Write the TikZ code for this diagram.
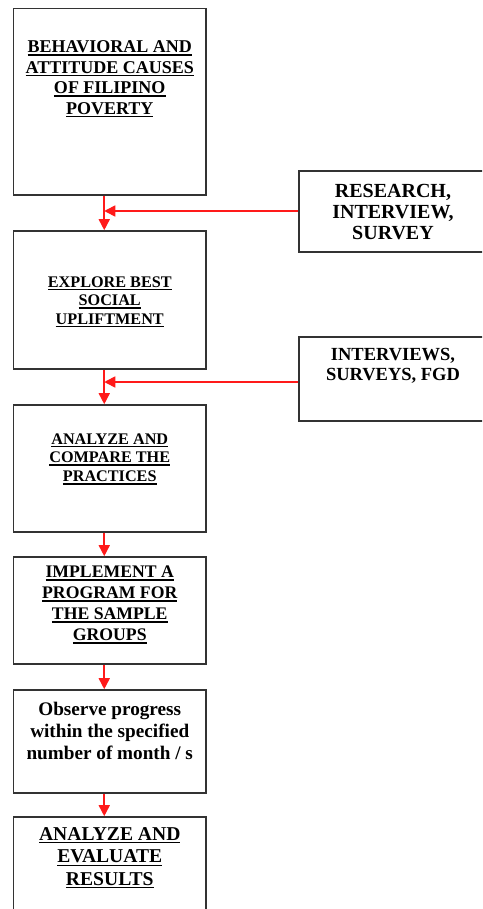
\documentclass[tikz,border=0pt]{standalone}
\usepackage{fontspec}
\setmainfont{Liberation Serif}
\usetikzlibrary{arrows.meta, positioning}
\usepackage{xcolor}
\definecolor{edgecol}{HTML}{333333}
\definecolor{flowred}{HTML}{FF1A1A}
\newcommand\ultext[1]{\vtop{\hbox{#1}\kern1.4pt\hrule height1.5pt}}

\begin{document}
\begin{tikzpicture}[
  x=1pt, y=1pt,
  box/.style={draw=edgecol, line width=1.6pt, inner sep=0pt, minimum width=192.5pt},
  sidebox/.style={draw=edgecol, line width=1.6pt, inner sep=0pt, minimum width=188pt},
  txt/.style 2 args={align=center, inner sep=0pt, font=\bfseries\fontsize{#1}{#2}\selectfont},
  arrow/.style={-{Triangle[length=11pt, width=11pt]}, line width=1.6pt, flowred}
]
\useasboundingbox (0,0) rectangle (482,-909);
\clip (0,0) rectangle (482,-909);

\node[box, minimum height=186.5pt] (cause) at (109.75,-101.75) {};
\node[box, minimum height=138pt] (explore) at (109.75,-300) {};
\node[box, minimum height=127pt] (compare) at (109.75,-468.5) {};
\node[box, minimum height=107pt] (implement) at (109.75,-610.5) {};
\node[box, minimum height=103pt] (observe) at (109.75,-741.5) {};
\node[box, minimum height=120pt] (evaluate) at (109.75,-877) {};
\node[sidebox, minimum height=81pt] (research) at (393,-211.5) {};
\node[sidebox, minimum height=84pt] (interviews) at (393,-379) {};

\node[txt={18}{20.5}, below=33pt of cause.north] (causetxt)
  {\ultext{BEHAVIORAL AND}\\\ultext{ATTITUDE CAUSES}\\\ultext{OF FILIPINO}\\\ultext{POVERTY}};
\node[txt={16.2}{18.5}, below=46pt of explore.north] (exploretxt)
  {\ultext{EXPLORE BEST}\\\ultext{SOCIAL}\\\ultext{UPLIFTMENT}};
\node[txt={16.2}{18.7}, below=29pt of compare.north] (comparetxt)
  {\ultext{ANALYZE AND}\\\ultext{COMPARE THE}\\\ultext{PRACTICES}};
\node[txt={17.7}{21}, below=9.7pt of implement.north] (implementtxt)
  {\ultext{IMPLEMENT A}\\\ultext{PROGRAM FOR}\\\ultext{THE SAMPLE}\\\ultext{GROUPS}};
\node[txt={19.2}{21.7}, below=13pt of observe.north] (observetxt)
  {Observe progress\\within the specified\\number of month / s};
\node[txt={19.6}{22.5}, below=11pt of evaluate.north] (evaluatetxt)
  {\ultext{ANALYZE AND}\\\ultext{EVALUATE}\\\ultext{RESULTS}};
\node[txt={20}{20.8}, below=14pt of research.north] (researchtxt)
  {RESEARCH,\\INTERVIEW,\\SURVEY};
\node[txt={18.5}{20}, below=12pt of interviews.north] (interviewstxt)
  {INTERVIEWS,\\SURVEYS, FGD};

\coordinate (joinA) at ([xshift=-5.5pt]cause.south);
\coordinate (joinB) at ([xshift=-5.5pt]explore.south);

\draw[arrow] (joinA) -- ([xshift=-5.5pt]explore.north);
\draw[arrow] (joinB) -- ([xshift=-5.5pt]compare.north);
\draw[arrow] ([xshift=-5.5pt]compare.south) -- ([xshift=-5.5pt]implement.north);
\draw[arrow] ([xshift=-5.5pt]implement.south) -- ([xshift=-5.5pt]observe.north);
\draw[arrow] ([xshift=-5.5pt]observe.south) -- ([xshift=-5.5pt]evaluate.north);
\draw[arrow] ([yshift=0.5pt]research.west) -- ([yshift=0.5pt]research.west -| joinA);
\draw[arrow] ([yshift=-3pt]interviews.west) -- ([yshift=-3pt]interviews.west -| joinB);
\end{tikzpicture}
\end{document}
